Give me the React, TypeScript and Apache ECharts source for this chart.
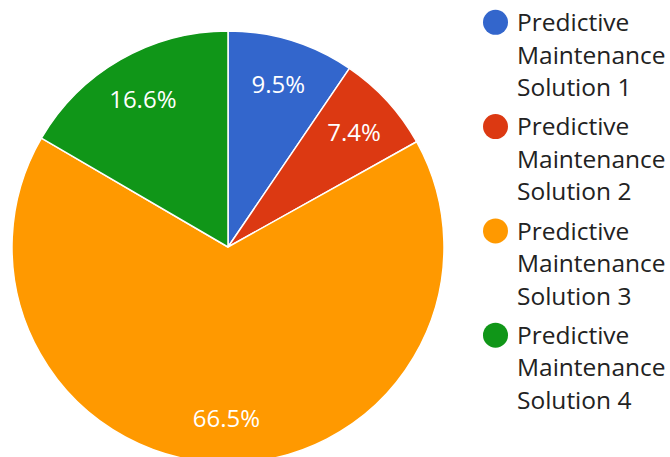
import React, { useEffect, useRef } from 'react';
import * as echarts from 'echarts';

const categories = [
  'Predictive\nMaintenance\nSolution 1',
  'Predictive\nMaintenance\nSolution 2',
  'Predictive\nMaintenance\nSolution 3',
  'Predictive\nMaintenance\nSolution 4',
];
const values = [9.5, 7.4, 66.5, 16.6];
const colors = ['#3366cc', '#dc3912', '#ff9900', '#109618'];

const FONT = '"Open Sans", "Noto Sans", Arial, sans-serif';

// circle icon drawn at the top of a tall (25 x 97.5) box, so it sits beside the first text line
const LEGEND_ICON =
  'path://M0 0 L0 0 M25 97.5 L25 97.5 M0 17 A12.5 12.5 0 1 0 25 17 A12.5 12.5 0 1 0 0 17 Z';

export default function App() {
  const ref = useRef<HTMLDivElement>(null);
  useEffect(() => {
    document.body.style.margin = '0';
    const chart = echarts.init(ref.current!, null, { renderer: 'svg' });
    const data = categories.map((name, i) => ({ name, value: values[i] }));
    chart.setOption({
      animation: false,
      color: colors,
      legend: {
        orient: 'vertical',
        left: 483,
        top: 5.3,
        padding: 0,
        icon: LEGEND_ICON,
        itemWidth: 25,
        itemHeight: 97.5,
        itemGap: 6.8,
        selectedMode: false,
        data: categories,
        itemStyle: { borderWidth: 0 },
        textStyle: {
          fontFamily: FONT,
          fontSize: 24.5,
          lineHeight: 32.5,
          color: '#222222',
          padding: [0, 0, 0, 4],
        },
      },
      series: [
        {
          type: 'pie',
          center: [228, 247],
          radius: [0, 216],
          startAngle: 90,
          clockwise: true,
          silent: true,
          label: { show: false },
          labelLine: { show: false },
          itemStyle: { borderColor: '#ffffff', borderWidth: 1.5 },
          data,
        },
        {
          type: 'pie',
          center: [228, 247],
          radius: [120, 216],
          startAngle: 90,
          clockwise: true,
          silent: true,
          itemStyle: { color: 'rgba(0,0,0,0)', borderWidth: 0 },
          label: {
            show: true,
            position: 'inside',
            color: '#ffffff',
            fontFamily: FONT,
            fontSize: 24,
            formatter: (p: any) => p.value.toFixed(1) + '%',
          },
          labelLine: { show: false },
          emphasis: { disabled: true },
          data,
        },
      ],
    });
    return () => chart.dispose();
  }, []);
  return <div ref={ref} style={{ width: 670, height: 457 }} />;
}
